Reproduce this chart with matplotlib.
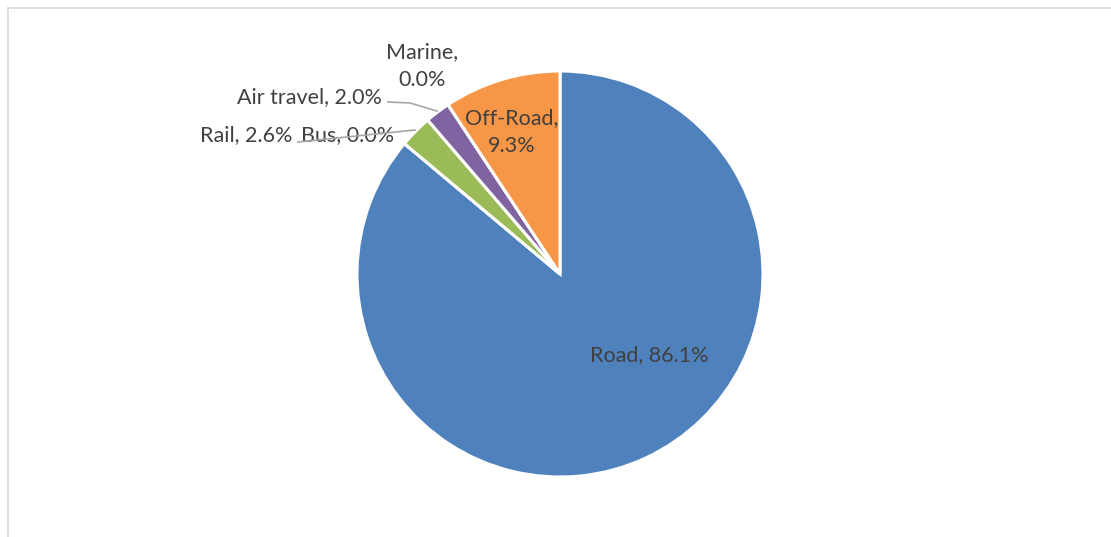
import matplotlib.pyplot as plt
from matplotlib.lines import Line2D

# data, clockwise from 12 o'clock
categories = ['Road', 'Bus', 'Rail', 'Air travel', 'Marine', 'Off-Road']
shares = [86.1, 0.0, 2.6, 2.0, 0.0, 9.3]
colors = ['#4F81BD', '#C0504D', '#9BBB59', '#8064A2', '#4BACC6', '#F79646']

W, H = 1111, 537
fig = plt.figure(figsize=(W / 100, H / 100), dpi=100)
ax = fig.add_axes([0, 0, 1, 1])

# chart frame (only left and top visible)
fig.add_artist(Line2D([7.5 / W, 7.5 / W], [0, 1 - 7.5 / H], color='#D9D9D9', lw=1.2))
fig.add_artist(Line2D([7.5 / W, 1], [1 - 7.5 / H, 1 - 7.5 / H], color='#D9D9D9', lw=1.2))

cx, cy, r = 560, H - 274, 203
ax.pie(shares, colors=colors, startangle=90, counterclock=False,
       center=(cx, cy), radius=r,
       wedgeprops=dict(edgecolor='white', linewidth=2.2))
ax.set_xlim(0, W)
ax.set_ylim(0, H)
ax.set_aspect('equal')
ax.axis('off')


def lbl(i):
    return f'{categories[i]}, {shares[i]:.1f}%'


txt = dict(fontsize=15.5, color='#404040', family=['Lato', 'DejaVu Sans'],
           ha='center', va='center')

def P(x, y):
    return (x, H - y)

ax.text(*P(649, 355), lbl(0), **txt)
ax.text(*P(512, 132), f'{categories[5]},\n{shares[5]:.1f}%', linespacing=1.5, **txt)
ax.text(*P(422, 66), f'{categories[4]},\n{shares[4]:.1f}%', linespacing=1.5, **txt)
ax.text(*P(309, 97), lbl(3), **txt)
ax.text(*P(246, 135), lbl(2), **txt)
ax.text(*P(348, 135), lbl(1), **txt)

# leader lines
lc = dict(color='#A6A6A6', lw=1.2, zorder=5)
ax.plot([388, 410, 437], [H - 102, H - 103, H - 111], **lc)
ax.plot([298, 415], [H - 142, H - 130], **lc)

fig.savefig('out.png', dpi=100)
